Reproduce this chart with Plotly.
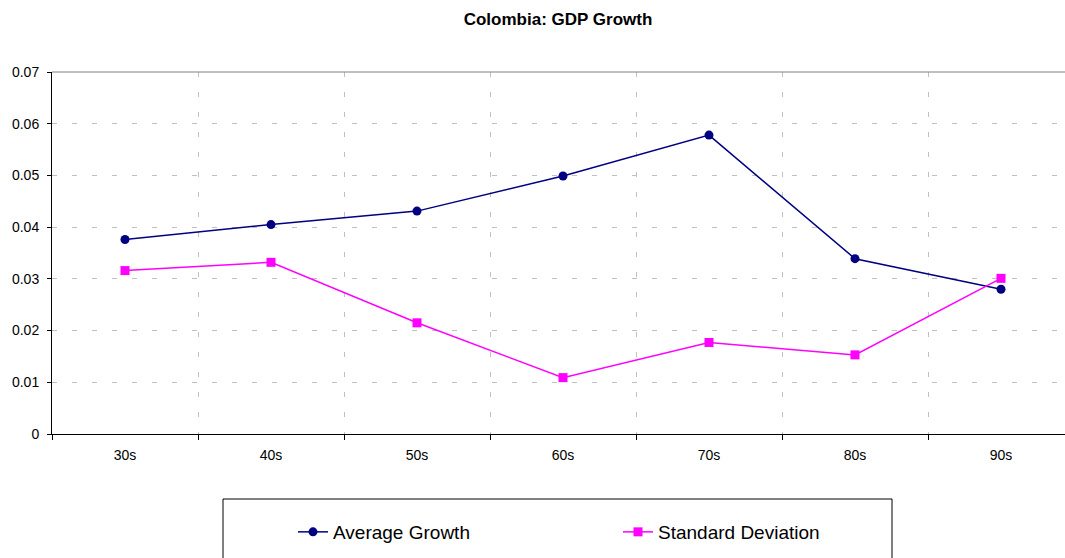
import plotly.graph_objects as go

# Decade averages and volatility of Colombian GDP growth
decades = ["30s", "40s", "50s", "60s", "70s", "80s", "90s"]
average_growth = [0.0376, 0.0405, 0.0431, 0.0499, 0.0578, 0.0339, 0.0280]
standard_deviation = [0.0316, 0.0332, 0.0215, 0.0109, 0.0177, 0.0153, 0.0301]
y_ticks = [0, 0.01, 0.02, 0.03, 0.04, 0.05, 0.06, 0.07]
y_tick_text = ["0", "0.01", "0.02", "0.03", "0.04", "0.05", "0.06", "0.07"]

W, H = 1065, 558
L, R, T, B = 52, 0, 72, 124
plot_w = W - L - R
plot_h = H - T - B
cat_px = 146  # width of one decade slot in pixels


def px_x(p):
    return (p - L) / plot_w


def px_y(p):
    return (H - B - p) / plot_h


FONT = "Liberation Sans, Arial, sans-serif"

fig = go.Figure()
fig.add_trace(go.Scatter(
    x=decades, y=average_growth, name="Average Growth",
    mode="lines+markers",
    line=dict(color="#000080", width=1.5),
    marker=dict(symbol="circle", size=9, color="#000080"),
))
fig.add_trace(go.Scatter(
    x=decades, y=standard_deviation, name="Standard Deviation",
    mode="lines+markers",
    line=dict(color="#FF00FF", width=1.5),
    marker=dict(symbol="square", size=9, color="#FF00FF"),
))

# plot-area top border
fig.add_shape(type="line", xref="paper", yref="paper",
              x0=0, x1=1, y0=1, y1=1,
              line=dict(color="#808080", width=1))
# legend frame
fig.add_shape(type="rect", xref="paper", yref="paper",
              x0=px_x(223), x1=px_x(892), y0=px_y(499), y1=px_y(565),
              line=dict(color="#000000", width=1), fillcolor="rgba(0,0,0,0)")

fig.update_layout(
    width=W, height=H,
    margin=dict(l=L, r=R, t=T, b=B, pad=0),
    paper_bgcolor="white", plot_bgcolor="white",
    font=dict(family=FONT, size=14, color="#000000"),
    title=dict(text="<b>Colombia: GDP Growth</b>", xref="container", yref="container",
               x=558 / W, y=1 - 19 / H, xanchor="center", yanchor="middle",
               font=dict(family=FONT, size=17, color="#000000")),
    showlegend=True,
    legend=dict(orientation="h", x=px_x(293), y=px_y(532),
                xanchor="left", yanchor="middle",
                font=dict(family=FONT, size=19, color="#000000"),
                entrywidth=280, entrywidthmode="pixels",
                bgcolor="rgba(0,0,0,0)", borderwidth=0),
    xaxis=dict(
        type="category",
        range=[-0.5, -0.5 + plot_w / cat_px],
        tickson="boundaries",
        ticks="outside", ticklen=5, tickcolor="#000000", tickwidth=1,
        showline=True, linecolor="#000000", linewidth=1,
        showgrid=True, gridcolor="#c0c0c0", griddash="5px,15px", gridwidth=1,
        ticklabelstandoff=8,
        tickfont=dict(family=FONT, size=14, color="#000000"),
        zeroline=False, fixedrange=True,
    ),
    yaxis=dict(
        range=[0, 0.07],
        tickvals=y_ticks, ticktext=y_tick_text,
        ticks="outside", ticklen=4, tickcolor="#000000", tickwidth=1,
        showline=True, linecolor="#000000", linewidth=1,
        showgrid=True, gridcolor="#c0c0c0", griddash="5px,15px", gridwidth=1,
        ticklabelstandoff=5,
        tickfont=dict(family=FONT, size=14, color="#000000"),
        zeroline=False, fixedrange=True,
    ),
)

fig.write_html("out.html", config={"displayModeBar": False})
